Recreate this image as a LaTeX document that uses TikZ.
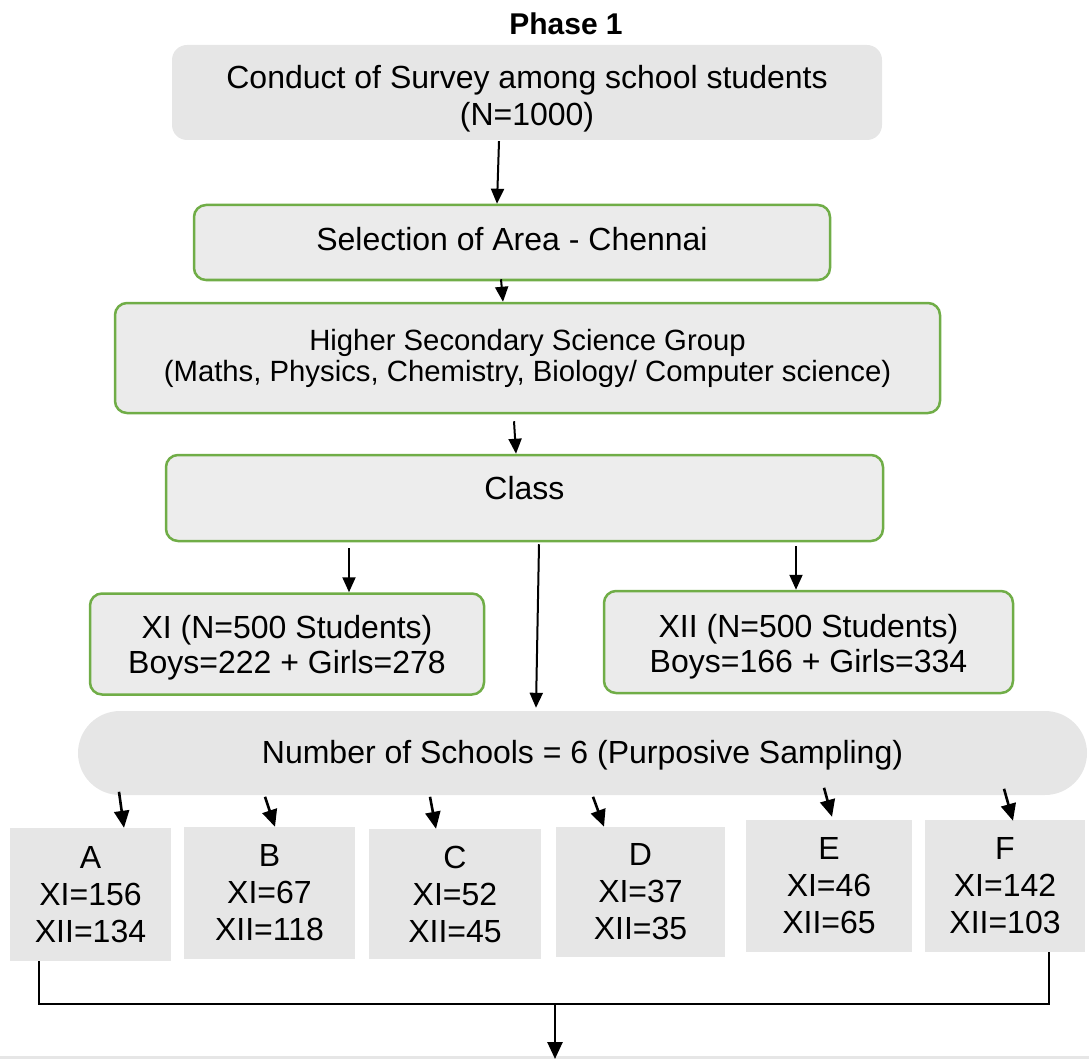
\documentclass[tikz,border=0pt]{standalone}
\usepackage{fontspec}
\setmainfont{Liberation Sans}
\usetikzlibrary{arrows.meta,calc}
\definecolor{boxgray}{HTML}{E6E6E6}
\definecolor{lightgray2}{HTML}{EBEBEB}
\definecolor{classgray}{HTML}{EDEDED}
\definecolor{grn}{HTML}{70AD47}
\begin{document}
\begin{tikzpicture}[x=1pt,y=-1pt,
  txt/.style={font=\fontsize{32}{37}\selectfont, align=center, inner sep=0pt},
  plainbox/.style={txt, fill=boxgray, draw=none, rounded corners=15pt},
  greenbox/.style={txt, fill=lightgray2, draw=grn, line width=2.5pt, rounded corners=12pt},
  school/.style={txt, fill=boxgray, draw=none},
  arr/.style={line width=2pt, -{Triangle[length=15pt,width=13pt]}},
  sarr/.style={line width=2.6pt, -{Triangle[length=17pt,width=15pt]}}
]
\useasboundingbox (0,0) rectangle (1089,1059);
\fill[boxgray] (0,1056) rectangle (1089,1059);

\node[font=\bfseries\fontsize{30}{34}\selectfont, inner sep=0pt] (phase) at (566,24) {Phase 1};

\node[plainbox, minimum width=710pt, minimum height=95pt,
  label={[txt,yshift=-6pt]center:{Conduct of Survey among school students\\(N=1000)}}] (b1) at (527,92.5) {};
\node[greenbox, minimum width=636pt, minimum height=75pt,
  label={[txt,yshift=3.5pt]center:{Selection of Area - Chennai}}] (b2) at (512,242.5) {};
\node[greenbox, minimum width=825pt, minimum height=110pt, font=\fontsize{29.3}{31}\selectfont] (b3) at (527.5,358)
  {Higher Secondary Science Group\\(Maths, Physics, Chemistry, Biology/ Computer science)};
\node[greenbox, fill=classgray, minimum width=717pt, minimum height=86pt,
  label={[txt,yshift=9.5pt]center:{Class}}] (b4) at (524.5,498) {};
\node[greenbox, minimum width=394pt, minimum height=101pt,
  label={[txt,font=\fontsize{32}{35}\selectfont,yshift=-4pt]center:{XI (N=500 Students)\\Boys=222 + Girls=278}}] (xi) at (287,644) {};
\node[greenbox, minimum width=409pt, minimum height=102pt,
  label={[txt,font=\fontsize{32}{35}\selectfont,yshift=-5pt]center:{XII (N=500 Students)\\Boys=166 + Girls=334}}] (xii) at (808.5,642) {};
\node[txt, fill=boxgray, minimum width=1009pt, minimum height=84pt, rounded corners=42pt,
  label={[txt,yshift=-2pt]center:{Number of Schools = 6 (Purposive Sampling)}}] (pill) at (582.5,753) {};

\node[school, minimum width=161pt, minimum height=133pt] (A) at (90.5,894.5) {A\\XI=156\\XII=134};
\node[school, minimum width=171pt, minimum height=132pt] (B) at (269.5,893) {B\\XI=67\\XII=118};
\node[school, minimum width=172pt, minimum height=130pt] (C) at (455,894) {C\\XI=52\\XII=45};
\node[school, minimum width=169pt, minimum height=130pt] (D) at (640.5,892) {D\\XI=37\\XII=35};
\node[school, minimum width=166pt, minimum height=132pt] (E) at (829,886) {E\\XI=46\\XII=65};
\node[school, minimum width=160pt, minimum height=132pt] (F) at (1005,886) {F\\XI=142\\XII=103};

% upper arrows
\draw[arr] ($(b1.south)+(-28,1)$) -- ($(b2.north)+(-15,0)$);
\draw[arr] ($(b2.south)+(-11,-2)$) -- ($(b3.north)+(-24.5,0)$);
\draw[arr] ($(b3.south)+(-13.5,7)$) -- ($(b4.north)+(-8.5,0)$);
\draw[arr] ($(b4.south)+(-175.5,6)$) -- ($(xi.north)+(62,0)$);
\draw[arr] ($(b4.south)+(271.5,4)$) -- ($(xii.north)+(-12.5,0)$);
\draw[arr] ($(b4.south)+(14.5,2)$) -- ($(pill.north)+(-46.5,-3)$);

% school arrows
\draw[sarr] ($(A.north)+(28.5,-36)$) -- ($(A.north)+(33.5,0)$);
\draw[sarr] ($(B.north)+(-4.5,-30)$) -- ($(B.north)+(5.5,0)$);
\draw[sarr] ($(C.north)+(-25,-32)$) -- ($(C.north)+(-19,0)$);
\draw[sarr] ($(D.north)+(-47.5,-30)$) -- ($(D.north)+(-36.5,0)$);
\draw[sarr] ($(E.north)+(-5,-32)$) -- ($(E.north)+(3,-3)$);
\draw[sarr] ($(F.north)+(-1,-31)$) -- ($(F.north)+(8,1)$);

% bottom connector
\coordinate (join) at (555,1004);
\coordinate (next) at (555,1059);
\draw[line width=2pt] ($(A.south west)+(29,0)$) |- ($(F.south west)+(124,52)$) -- ($(F.south west)+(124,0)$);
\draw[line width=2.6pt, -{Triangle[length=17pt,width=15pt]}] (join) -- (next);
\end{tikzpicture}
\end{document}
